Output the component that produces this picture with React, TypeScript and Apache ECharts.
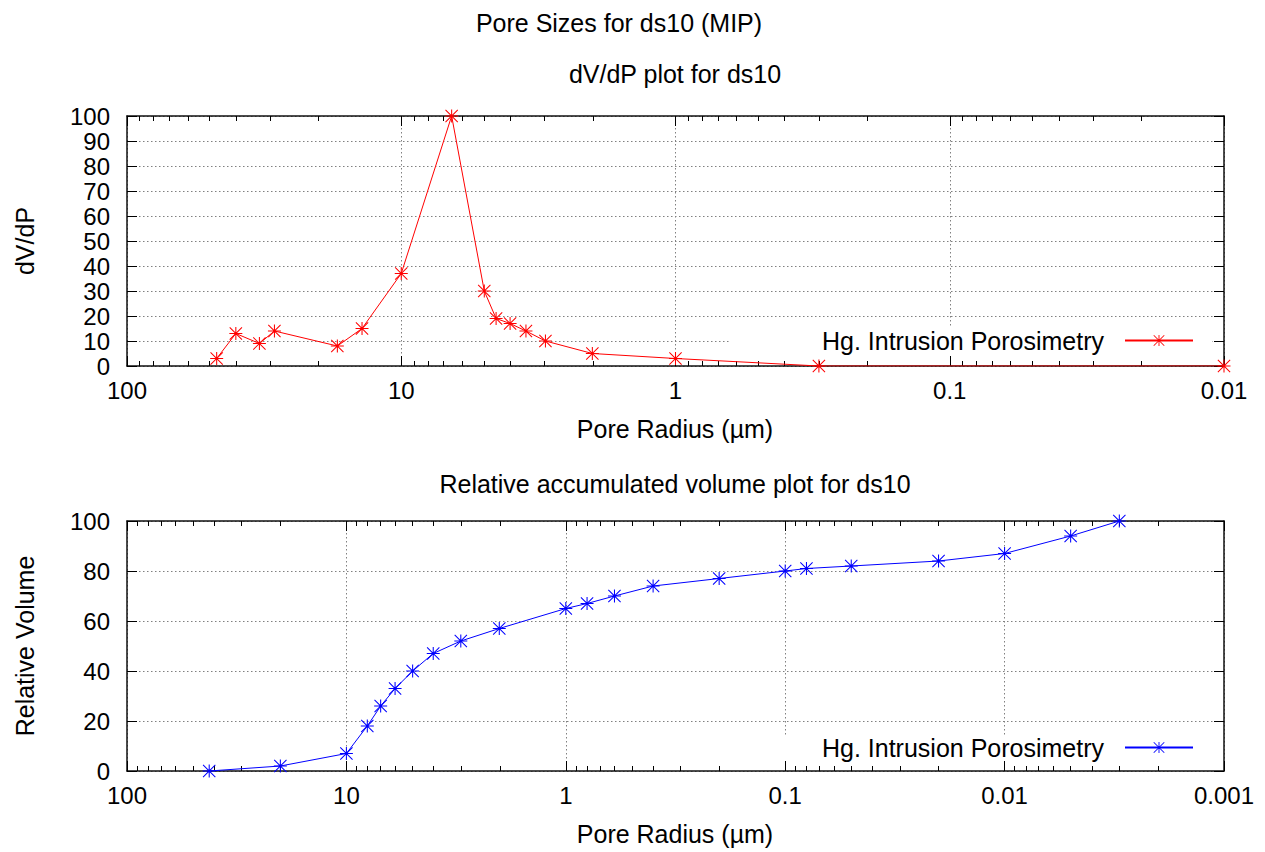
import React, { useEffect, useRef } from 'react';
import * as echarts from 'echarts';

// ---- Texts ----
const MAIN_TITLE = 'Pore Sizes for ds10 (MIP)';
const TOP_TITLE = 'dV/dP plot for ds10';
const BOTTOM_TITLE = 'Relative accumulated volume plot for ds10';
const X_NAME = 'Pore Radius (µm)';
const TOP_Y_NAME = 'dV/dP';
const BOTTOM_Y_NAME = 'Relative Volume';
const SERIES_LABEL = 'Hg. Intrusion Porosimetry';

// ---- Data: dV/dP plot ----
const topRadius = [47.1, 40.1, 32.9, 29.0, 17.1, 13.9, 10, 6.55, 4.98, 4.51, 4.01, 3.51, 2.98, 2.01, 1.0, 0.3, 0.01];
const topDvdp = [3, 13, 9, 14, 8, 15, 37, 100, 30, 19, 17, 14, 10, 5, 3, 0, 0];

// ---- Data: relative accumulated volume ----
const bottomRadius = [42.2, 20, 10, 8.03, 6.98, 6.0, 4.99, 4.02, 3.01, 2.01, 1.0, 0.8, 0.6, 0.4, 0.2, 0.1, 0.08, 0.05, 0.02, 0.01, 0.005, 0.003];
const bottomVolume = [0, 2, 7, 18, 26, 33, 40, 47, 52, 57, 65, 67, 70, 74, 77, 80, 81, 82, 84, 87, 94, 100];

// ---- Tick labels ----
const topXTicks = [100, 10, 1, 0.1, 0.01];
const bottomXTicks = [100, 10, 1, 0.1, 0.01, 0.001];
const topYMax = 100;
const topYInterval = 10;
const bottomYMax = 100;
const bottomYInterval = 20;

const FONT = "'Liberation Sans', Arial, Helvetica, sans-serif";
const FS = 24;
const FS_TEXT = 25;
const BORDER = { color: '#111', width: 1.5 };
const GRIDLINE = { color: '#808080', width: 1, type: [1.5, 2.5] as number[] };

const ASTERISK =
  'path://M9.2,0L10.8,0L10.8,20L9.2,20Z' +
  'M0,9.2L20,9.2L20,10.8L0,10.8Z' +
  'M0,1.1L1.1,0L20,18.9L18.9,20Z' +
  'M18.9,0L20,1.1L1.1,20L0,18.9Z';

function minorTicks(ticks: number[]): number[] {
  const lo = Math.round(Math.log10(Math.min(...ticks)));
  const hi = Math.round(Math.log10(Math.max(...ticks)));
  const out: number[] = [];
  for (let e = lo; e < hi; e++) {
    for (let k = 2; k <= 9; k++) out.push(parseFloat((k * Math.pow(10, e)).toPrecision(6)));
  }
  return out;
}

const fmt = (v: number) => String(parseFloat(Number(v).toPrecision(6)));

function xAxes(gridIndex: number, ticks: number[]) {
  const min = Math.min(...ticks);
  const max = Math.max(...ticks);
  const minors = minorTicks(ticks);
  const base = { type: 'log', logBase: 10, min, max, inverse: true, gridIndex };
  const tickStyle = { color: '#000', width: 1 };
  return [
    {
      ...base,
      position: 'bottom',
      axisLine: { show: true, onZero: false, lineStyle: BORDER },
      axisTick: { show: true, inside: true, length: 10, customValues: ticks, lineStyle: tickStyle },
      axisLabel: { show: true, customValues: ticks, formatter: fmt, margin: 12, fontSize: FS, fontFamily: FONT, color: '#000' },
      splitLine: { show: true, lineStyle: GRIDLINE },
    },
    {
      ...base,
      position: 'bottom',
      axisLine: { show: false, onZero: false },
      axisTick: { show: true, inside: true, length: 5, customValues: minors, lineStyle: tickStyle },
      axisLabel: { show: false },
      splitLine: { show: false },
    },
    {
      ...base,
      position: 'top',
      axisLine: { show: true, onZero: false, lineStyle: BORDER },
      axisTick: { show: true, inside: true, length: 10, customValues: ticks, lineStyle: tickStyle },
      axisLabel: { show: false },
      splitLine: { show: false },
    },
    {
      ...base,
      position: 'top',
      axisLine: { show: false, onZero: false },
      axisTick: { show: true, inside: true, length: 5, customValues: minors, lineStyle: tickStyle },
      axisLabel: { show: false },
      splitLine: { show: false },
    },
  ];
}

function yAxes(gridIndex: number, max: number, interval: number) {
  const base = { type: 'value', min: 0, max, interval, gridIndex };
  const tickStyle = { color: '#000', width: 1 };
  return [
    {
      ...base,
      position: 'left',
      axisLine: { show: true, onZero: false, lineStyle: BORDER },
      axisTick: { show: true, inside: true, length: 10, lineStyle: tickStyle },
      axisLabel: { show: true, margin: 17, fontSize: FS, fontFamily: FONT, color: '#000' },
      splitLine: { show: true, lineStyle: GRIDLINE },
    },
    {
      ...base,
      position: 'right',
      axisLine: { show: true, onZero: false, lineStyle: BORDER },
      axisTick: { show: true, inside: true, length: 10, lineStyle: tickStyle },
      axisLabel: { show: false },
      splitLine: { show: false },
    },
  ];
}

function legendFor(name: string, top: number) {
  return {
    data: [name],
    right: 71,
    top,
    padding: 0,
    align: 'right',
    itemWidth: 68,
    itemHeight: 14,
    selectedMode: false,
    formatter: () => '{t|' + SERIES_LABEL + '}',
    textStyle: {
      rich: { t: { fontSize: FS_TEXT, fontFamily: FONT, color: '#000', padding: [0, 16, 0, 0] } },
    },
  };
}

function label(text: string, x: number, y: number, rotate = false) {
  return {
    type: 'text',
    x,
    y,
    rotation: rotate ? Math.PI / 2 : 0,
    style: {
      text,
      fontSize: FS_TEXT,
      fontFamily: FONT,
      fill: '#000',
      textAlign: 'center',
      textVerticalAlign: 'middle',
    },
    z: 5,
  };
}

export default function App() {
  const ref = useRef<HTMLDivElement>(null);
  useEffect(() => {
    if (!ref.current) return;
    const chart = echarts.init(ref.current, undefined, { renderer: 'svg' });
    const BOTTOM_NAME = SERIES_LABEL + ' (cumulative)';
    chart.setOption({
      animation: false,
      backgroundColor: '#fff',
      textStyle: { fontFamily: FONT },
      grid: [
        { left: 127, right: 41, top: 116, height: 250 },
        { left: 127, right: 41, top: 521, height: 250 },
      ],
      xAxis: [...xAxes(0, topXTicks), ...xAxes(1, bottomXTicks)],
      yAxis: [...yAxes(0, topYMax, topYInterval), ...yAxes(1, bottomYMax, bottomYInterval)],
      legend: [legendFor(SERIES_LABEL, 328), legendFor(BOTTOM_NAME, 735)],
      graphic: [
        { type: 'rect', shape: { x: 731, y: 327, width: 481, height: 28 }, style: { fill: '#fff' }, z: 1 },
        { type: 'rect', shape: { x: 731, y: 735, width: 481, height: 25 }, style: { fill: '#fff' }, z: 1 },
        label(MAIN_TITLE, 619, 23),
        label(TOP_TITLE, 675, 74),
        label(X_NAME, 675, 429),
        label(BOTTOM_TITLE, 675, 484),
        label(X_NAME, 675, 834),
        label(TOP_Y_NAME, 25, 241, true),
        label(BOTTOM_Y_NAME, 25, 646, true),
      ],
      series: [
        {
          type: 'line',
          name: SERIES_LABEL,
          xAxisIndex: 0,
          yAxisIndex: 0,
          data: topRadius.map((r, i) => [r, topDvdp[i]]),
          symbol: ASTERISK,
          symbolSize: 13,
          lineStyle: { color: '#ff0000', width: 1 },
          itemStyle: { color: '#ff0000' },
          z: 3,
        },
        {
          type: 'line',
          name: BOTTOM_NAME,
          xAxisIndex: 4,
          yAxisIndex: 2,
          data: bottomRadius.map((r, i) => [r, bottomVolume[i]]),
          symbol: ASTERISK,
          symbolSize: 13,
          lineStyle: { color: '#0000ff', width: 1 },
          itemStyle: { color: '#0000ff' },
          z: 3,
        },
      ],
    });
    return () => chart.dispose();
  }, []);
  return <div ref={ref} style={{ position: 'absolute', left: 0, top: 0, width: 1265, height: 852 }} />;
}
